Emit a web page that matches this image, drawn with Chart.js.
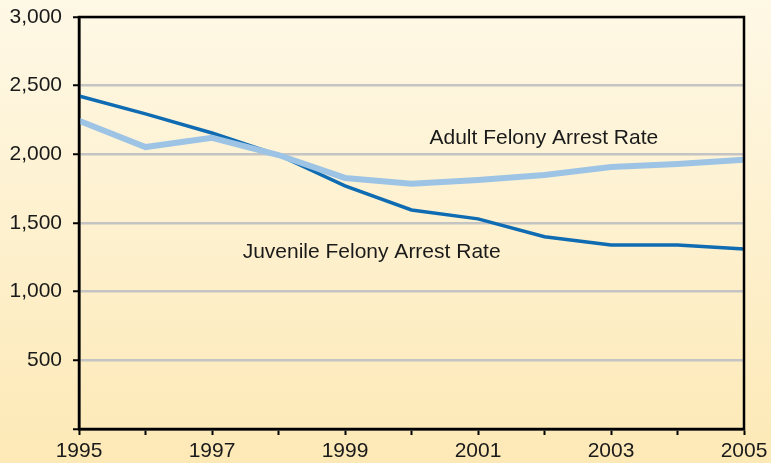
<!DOCTYPE html>
<html>
<head>
<meta charset="utf-8">
<script src="https://cdn.jsdelivr.net/npm/chart.js@4/dist/chart.umd.min.js"></script>
<style>
html,body{margin:0;padding:0;background:#fdf1cf;}
#wrap{width:771px;height:463px;}
</style>
</head>
<body>
<div id="wrap"><canvas id="c" width="771" height="463"></canvas></div>
<script>
const years = ['1995','1996','1997','1998','1999','2000','2001','2002','2003','2004','2005'];
const juvenileRate = [2425, 2295, 2155, 1995, 1770, 1595, 1530, 1400, 1340, 1340, 1310];
const adultRate = [2245, 2053, 2120, 1995, 1828, 1785, 1813, 1850, 1908, 1930, 1960];
const yTicks = [0, 500, 1000, 1500, 2000, 2500, 3000];
const seriesLabels = ['Juvenile Felony Arrest Rate', 'Adult Felony Arrest Rate'];
// annotation anchors in data space: [category index, value]
const labelAnchors = [[4.4, 1285], [6.99, 2120]];

const FONT = '"Liberation Sans", Arial, sans-serif';

const bgPlugin = {
  id: 'bg',
  beforeDraw(chart) {
    const ctx = chart.ctx;
    const g = ctx.createLinearGradient(0, 0, 0, chart.height);
    g.addColorStop(0, '#fef8e6');
    g.addColorStop(1, '#fde9b6');
    ctx.save();
    ctx.fillStyle = g;
    ctx.fillRect(0, 0, chart.width, chart.height);
    ctx.restore();
  },
  afterDraw(chart) {
    const a = chart.chartArea;
    const ctx = chart.ctx;
    ctx.save();
    ctx.strokeStyle = '#000';
    ctx.lineWidth = 2.5;
    ctx.strokeRect(a.left, a.top, a.right - a.left, a.bottom - a.top);
    ctx.restore();
  },
  afterDatasetsDraw(chart) {
    const ctx = chart.ctx;
    const xs = chart.scales.x, ys = chart.scales.y;
    ctx.save();
    ctx.font = '21px ' + FONT;
    ctx.fillStyle = '#1a1a1a';
    ctx.textAlign = 'center';
    ctx.textBaseline = 'middle';
    labelAnchors.forEach((p, i) => {
      ctx.fillText(seriesLabels[i], xs.getPixelForValue(p[0]), ys.getPixelForValue(p[1]));
    });
    ctx.restore();
  }
};

new Chart(document.getElementById('c'), {
  type: 'line',
  data: {
    labels: years,
    datasets: [
      {
        label: seriesLabels[0],
        data: juvenileRate,
        borderColor: '#0f6cb3',
        borderWidth: 3.5,
        pointRadius: 0,
        tension: 0,
        order: 2
      },
      {
        label: seriesLabels[1],
        data: adultRate,
        borderColor: '#9dc4e5',
        borderWidth: 6,
        pointRadius: 0,
        tension: 0,
        order: 1
      }
    ]
  },
  options: {
    responsive: false,
    animation: false,
    layout: { padding: { left: 0, top: 17, right: 27, bottom: 0 } },
    plugins: { legend: { display: false }, tooltip: { enabled: false } },
    scales: {
      x: {
        type: 'category',
        offset: false,
        grid: { drawOnChartArea: false, drawTicks: true, tickLength: 6, tickColor: '#000', tickWidth: 2 },
        border: { display: true, color: '#000', width: 2.5 },
        ticks: {
          autoSkip: false,
          maxRotation: 0,
          padding: 4,
          color: '#1a1a1a',
          font: { family: FONT, size: 21 },
          callback: function(v, i) { return i % 2 === 0 ? years[i] : ''; }
        },
        afterFit(s) { s.height = 34; s.paddingLeft = 0; s.paddingRight = 0; }
      },
      y: {
        min: 0,
        max: 3000,
        afterBuildTicks(s) { s.ticks = yTicks.map(v => ({ value: v })); },
        grid: { color: '#c4c4c4', lineWidth: 2.5, tickLength: 6, tickColor: '#000', tickWidth: 2 },
        border: { display: true, color: '#000', width: 2.5 },
        ticks: {
          padding: 11,
          color: '#1a1a1a',
          font: { family: FONT, size: 21 },
          callback: function(v) { return v === 0 ? '' : v.toLocaleString('en-US'); }
        },
        afterFit(s) { s.width = 79; s.paddingTop = 0; s.paddingBottom = 0; }
      }
    }
  },
  plugins: [bgPlugin]
});
</script>
</body>
</html>
